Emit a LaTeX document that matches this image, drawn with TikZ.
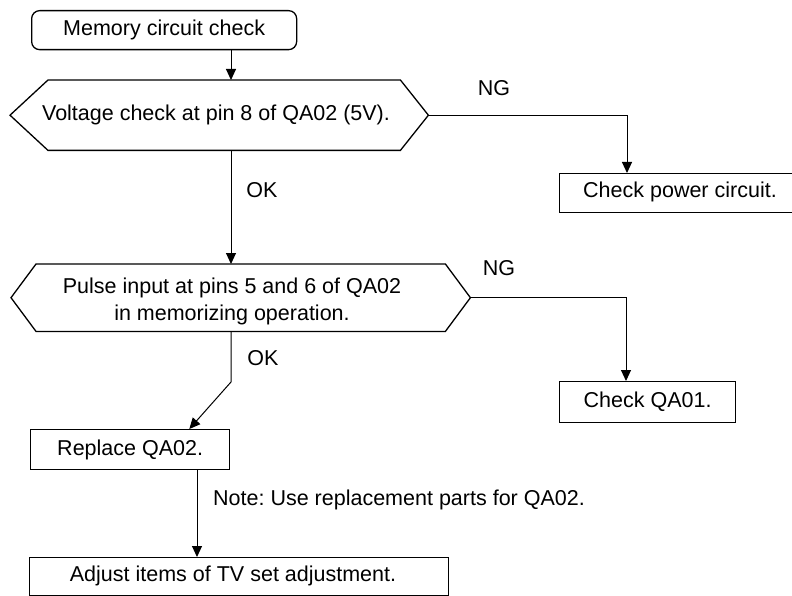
\documentclass[tikz,border=0pt]{standalone}
\usepackage{fontspec}
\setmainfont{Liberation Sans}
\usetikzlibrary{arrows.meta,calc}
\begin{document}
\frenchspacing
\begin{tikzpicture}[x=1pt,y=-1pt,
  every node/.style={font=\fontsize{21.5}{26}\selectfont, inner sep=0pt},
  boxline/.style={draw=black, line width=1.3pt},
  procbox/.style={boxline, rectangle, anchor=north west},
  core/.style={rectangle, anchor=north west, align=center},
  conn/.style={line width=1pt, draw=black},
  arr/.style={conn, -{Triangle[length=11pt,width=10pt]}},
  lbl/.style={text=black}
]
\useasboundingbox (0,0) rectangle (792,596);

% start
\node[procbox, rounded corners=8pt, minimum width=265pt, minimum height=39pt] (start) at (31,10) {};
\node at (start.center) {Memory circuit check};

\coordinate (spine) at (231,0);

% decision 1
\node[core, minimum width=352pt, minimum height=70pt] (h1) at (48,80) {};
\node (h1t) at (216,115) {Voltage check at pin 8 of QA02 (5V).};
\coordinate (h1l) at ($(h1.west)+(-38,0)$);
\coordinate (h1r) at ($(h1.east)+(28,0)$);
\draw[boxline] (h1.north west) -- (h1.north east) -- (h1r) -- (h1.south east) -- (h1.south west) -- (h1l) -- cycle;

% check power (runs past the right edge)
\node[procbox, minimum width=242pt, minimum height=39pt] (p1) at (559,173) {};
\node at (680,192) {Check power circuit.};

% decision 2
\node[core, minimum width=409pt, minimum height=67pt] (h2) at (36,264) {};
\node[align=center] (h2t) at (232,301) {Pulse input at pins 5 and 6 of QA02\\[1pt]in memorizing operation.};
\coordinate (h2l) at ($(h2.west)+(-25,0)$);
\coordinate (h2r) at ($(h2.east)+(25,0)$);
\draw[boxline] (h2.north west) -- (h2.north east) -- (h2r) -- (h2.south east) -- (h2.south west) -- (h2l) -- cycle;

% check QA01
\node[procbox, minimum width=176pt, minimum height=41pt] (q1) at (559,381) {};
\node at (q1.center) {Check QA01.};

% replace
\node[procbox, minimum width=199pt, minimum height=40pt] (r1) at (30,429) {};
\node at (r1.center) {Replace QA02.};

% final
\node[procbox, minimum width=419pt, minimum height=38pt] (f1) at (29,557) {};
\node at (233,576) {Adjust items of TV set adjustment.};

% connectors
\draw[arr] (start.south -| spine) -- (h1.north -| spine);
\draw[arr] (h1r) -| ($(p1.north west)+(68,0)$);
\draw[arr] (h1.south -| spine) -- (h2.north -| spine);
\draw[arr] (h2r) -| ($(q1.north west)+(67,0)$);
\coordinate (bend) at (231,382);
\draw[arr] (h2.south -| spine) -- (bend) -- ($(r1.north east)+(-41,0)$);
\coordinate (rdown) at ($(r1.south west)+(167,0)$);
\draw[arr] (rdown) -- (rdown |- f1.north);

% labels
\node[lbl] (ng1) at (494,88) {NG};
\node[lbl] (ok1) at (262,190) {OK};
\node[lbl] (ng2) at (499,268) {NG};
\node[lbl] (ok2) at (263,358) {OK};
\node[lbl, anchor=west] (note) at (213,500) {Note: Use replacement parts for QA02.};
\end{tikzpicture}
\end{document}
